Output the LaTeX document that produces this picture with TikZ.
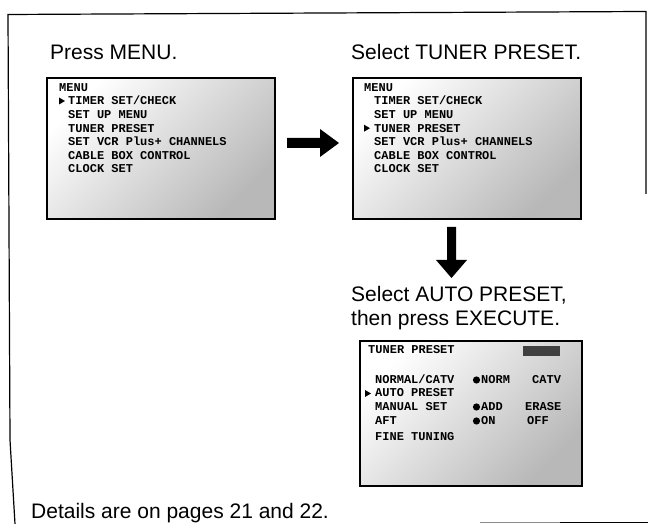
\documentclass[tikz,border=0pt]{standalone}
\usepackage{fontspec}
\setmainfont{Liberation Sans}
\newfontfamily\scrfont{Liberation Mono}
\begin{document}
\begin{tikzpicture}[x=1pt,y=1pt]
\tikzset{
  title/.style={anchor=base west, inner sep=0pt, font=\fontsize{21}{25}\selectfont},
  scr/.style={anchor=base west, inner sep=0pt, font=\scrfont\bfseries\fontsize{12}{14}\selectfont},
  screen/.style={draw=black, line width=1.7pt, anchor=north west, inner sep=0pt,
    top color=white, middle color=white, bottom color=black!28, shading angle=45},
  blockarrow/.style={fill=black}
}
\useasboundingbox (0,0) rectangle (648,524);
% frame
\draw[line width=1.2pt] (15,0) -- (10,84) -- (8,509.5) -- (646,512.5) -- (646,330);
\draw[line width=1.8pt, black!45] (480,1.5) -- (560,1.5);
\draw[line width=1.8pt] (560,1.5) -- (648,1.5);
% titles
\node[title] (t1) at (50,464) {Press MENU.};
\node[title] (t2) at (351,464) {Select TUNER PRESET.};
\node[title] (t3) at (351,222) {Select AUTO PRESET,};
\node[title] (t4) at (351,198) {then press EXECUTE.};
\node[title] (t5) at (31,5) {Details are on pages 21 and 22.};
% screen 1
\node[screen, minimum width=228pt, minimum height=141pt] (b1) at (46,447) {};
\node[scr] (m1) at (59,432.5) {MENU};
\fill (59,419.5) -- (59,426.5) -- (65,423) -- cycle;
\node[scr] (a1) at (68,419) {TIMER SET/CHECK};
\node[scr] (a2) at (68,405.4) {SET UP MENU};
\node[scr] (a3) at (68,391.8) {TUNER PRESET};
\node[scr] (a4) at (68,378.2) {SET VCR Plus+ CHANNELS};
\node[scr] (a5) at (68,364.6) {CABLE BOX CONTROL};
\node[scr] (a6) at (68,351) {CLOCK SET};
% screen 2
\node[screen, minimum width=228pt, minimum height=141pt] (b2) at (352,447) {};
\node[scr] (m2) at (364,432.5) {MENU};
\fill (364,392.3) -- (364,399.3) -- (370,395.8) -- cycle;
\node[scr] (c1) at (374,419) {TIMER SET/CHECK};
\node[scr] (c2) at (374,405.4) {SET UP MENU};
\node[scr] (c3) at (374,391.8) {TUNER PRESET};
\node[scr] (c4) at (374,378.2) {SET VCR Plus+ CHANNELS};
\node[scr] (c5) at (374,364.6) {CABLE BOX CONTROL};
\node[scr] (c6) at (374,351) {CLOCK SET};
% arrows
\fill[blockarrow] (287,386) -- (320,386) -- (320,395) -- (339,381) -- (320,367) -- (320,376) -- (287,376) -- cycle;
\fill[blockarrow] (447,297) -- (456,297) -- (456,264) -- (467,264) -- (451.5,246) -- (436,264) -- (447,264) -- cycle;
% screen 3
\node[screen, minimum width=222pt, minimum height=145pt] (b3) at (359,184) {};
\node[scr] (h3) at (368,170) {TUNER PRESET};
\fill[black!75] (523,168) rectangle (560,178);
\node[scr] (d1) at (375,140) {NORMAL/CATV};
\fill (365,127) -- (365,134) -- (371,130.5) -- cycle;
\node[scr] (d2) at (375,127) {AUTO PRESET};
\node[scr] (d3) at (375,113) {MANUAL SET};
\node[scr] (d4) at (375,99) {AFT};
\node[scr] (d5) at (375,83) {FINE TUNING};
\fill (476.5,144) circle (3.6pt);
\node[scr] (e1) at (481,140) {NORM};
\node[scr] (f1) at (532,140) {CATV};
\fill (476.5,117) circle (3.6pt);
\node[scr] (e2) at (481,113) {ADD};
\node[scr] (f2) at (525,113) {ERASE};
\fill (476.5,103) circle (3.6pt);
\node[scr] (e3) at (481,99) {ON};
\node[scr] (f3) at (527,99) {OFF};
\end{tikzpicture}
\end{document}
